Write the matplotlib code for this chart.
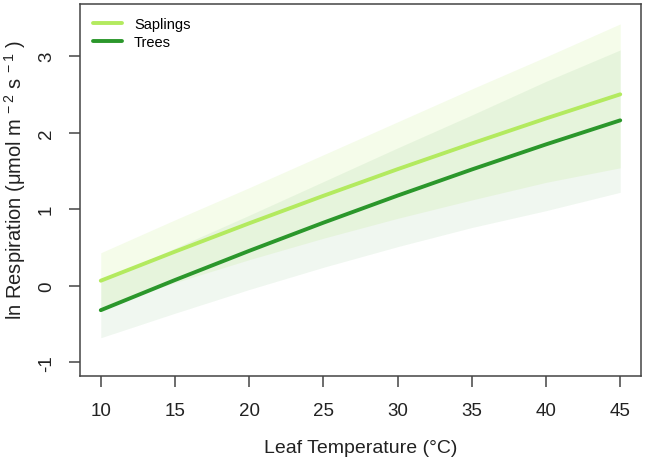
import numpy as np
import matplotlib
matplotlib.use("Agg")
import matplotlib.pyplot as plt

plt.rcParams['font.family'] = ['Liberation Sans', 'DejaVu Sans']
plt.rcParams['mathtext.default'] = 'regular'
plt.rcParams['axes.unicode_minus'] = False

# leaf temperature (deg C)
temp = [10, 15, 20, 25, 30, 35, 40, 45]

# saplings: fitted ln respiration and interval
sap_mean = [0.065, 0.445, 0.815, 1.174, 1.522, 1.858, 2.185, 2.50]
sap_lo = [-0.28, 0.04, 0.34, 0.62, 0.88, 1.12, 1.35, 1.54]
sap_hi = [0.43, 0.86, 1.28, 1.71, 2.14, 2.57, 2.99, 3.42]

# trees
tree_mean = [-0.32, 0.074, 0.455, 0.823, 1.177, 1.518, 1.846, 2.16]
tree_lo = [-0.68, -0.36, -0.05, 0.24, 0.51, 0.76, 0.98, 1.22]
tree_hi = [0.06, 0.49, 0.92, 1.36, 1.80, 2.23, 2.67, 3.08]

sap_col = '#b3ea5f'
tree_col = '#2b972b'

fig = plt.figure(figsize=(6.46, 4.6), dpi=100)
ax = fig.add_axes([80/646, 83/460, 561/646, 372/460])

ax.fill_between(temp, sap_lo, sap_hi, color=sap_col, alpha=0.13, lw=0)
ax.fill_between(temp, tree_lo, tree_hi, color=tree_col, alpha=0.07, lw=0)
ax.plot(temp, sap_mean, color=sap_col, lw=2.8, label='Saplings', solid_capstyle='round')
ax.plot(temp, tree_mean, color=tree_col, lw=2.8, label='Trees', solid_capstyle='round')

ax.set_xlim(8.6, 46.4)
ax.set_ylim(-1.18, 3.68)
ax.set_xticks([10, 15, 20, 25, 30, 35, 40, 45])
ax.set_yticks([-1, 0, 1, 2, 3])

for s in ax.spines.values():
    s.set_color('#444444')
    s.set_linewidth(1.1)
ax.tick_params(axis='both', direction='out', length=8, width=1.1, color='#444444',
               labelsize=13.5, labelcolor='#222222')
ax.tick_params(axis='x', pad=11)
ax.tick_params(axis='y', pad=10)
for lab in ax.get_yticklabels():
    lab.set_rotation(90)
    lab.set_va('center')

ax.set_xlabel('Leaf Temperature (°C)', fontsize=14, color='#222222')
ax.set_ylabel('ln Respiration (μmol m$^{\\,-2}$ s$^{\\,-1}$ )', fontsize=14.5, color='#222222')
ax.xaxis.set_label_coords(0.5, -0.17)
ax.yaxis.set_label_coords(-0.092, 0.53)

ax.legend(loc='upper left', frameon=False, fontsize=10.5, handlelength=2.0,
          handletextpad=0.8, labelspacing=0.25, borderaxespad=0.5)

fig.savefig('out.png', dpi=100)
